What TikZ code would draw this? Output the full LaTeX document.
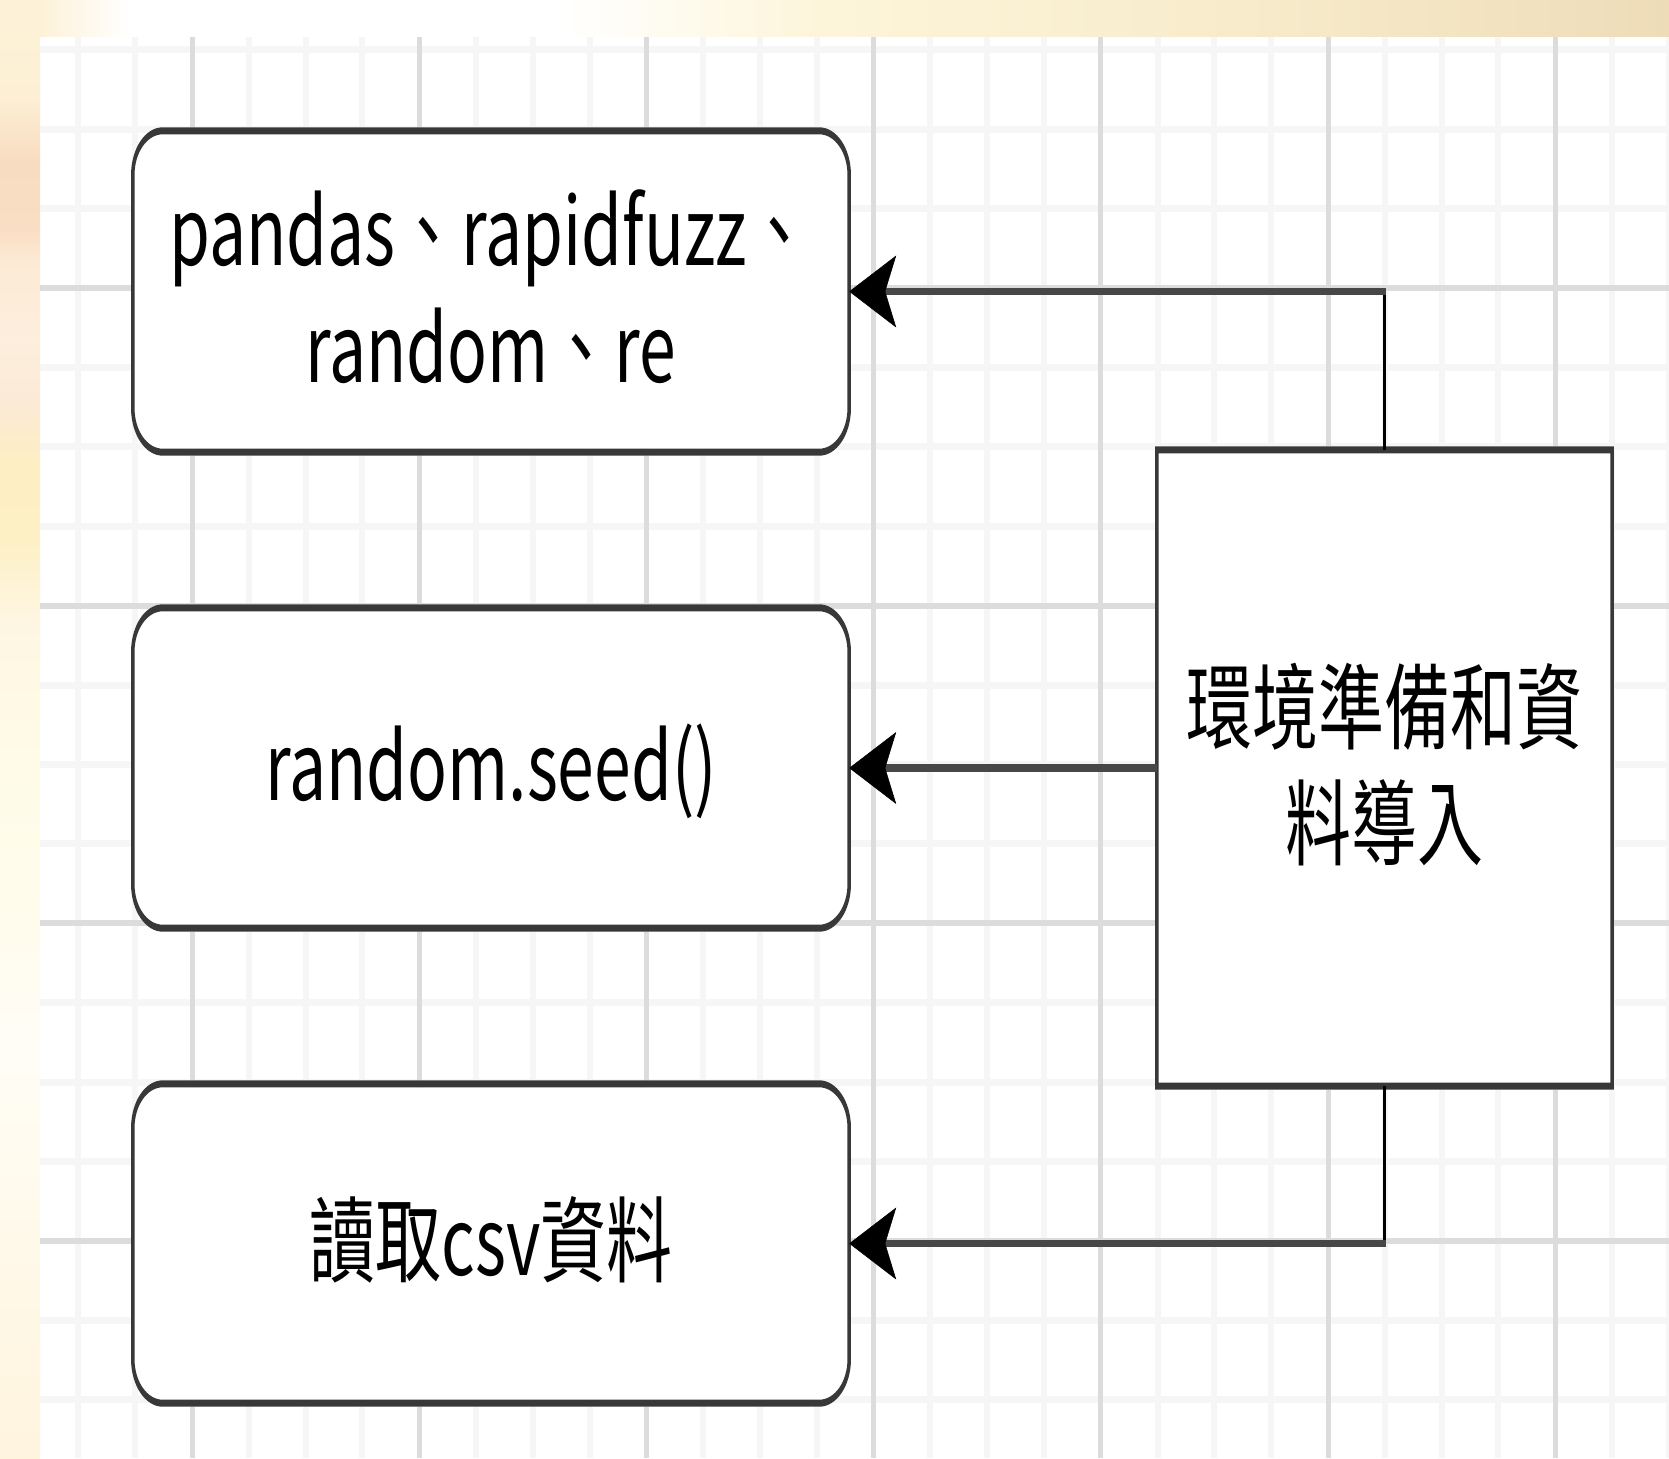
\documentclass[tikz,border=0pt]{standalone}
\usepackage{fontspec}
\usepackage{graphicx}
\newfontfamily\cjk{Noto Sans CJK TC}
\usetikzlibrary{arrows.meta,calc}
\pgfdeclarelayer{bg}
\pgfdeclarelayer{boxes}
\pgfsetlayers{bg,boxes,main}

\definecolor{gmin}{HTML}{F6F6F6}
\definecolor{gmaj}{HTML}{DCDCDC}
\definecolor{boxcol}{HTML}{383838}
\definecolor{hcol}{HTML}{474747}
\definecolor{lc0}{HTML}{FDF2D8}
\definecolor{lc1}{HTML}{FCEFD4}
\definecolor{lc2}{HTML}{F8DCC0}
\definecolor{lc3}{HTML}{F9DEC4}
\definecolor{lc4}{HTML}{FCEAD4}
\definecolor{lc5}{HTML}{FDEEDD}
\definecolor{lc6}{HTML}{FBEAD6}
\definecolor{lc7}{HTML}{FDEFC2}
\definecolor{lc8}{HTML}{FDF0C6}
\definecolor{lc9}{HTML}{FEF6E2}
\definecolor{lc10}{HTML}{FFFBE8}
\definecolor{lc11}{HTML}{FFFCEC}
\definecolor{lc12}{HTML}{FFFDF6}
\definecolor{lc13}{HTML}{FFFAEC}
\definecolor{lc14}{HTML}{FFF4DE}
\definecolor{tA}{HTML}{FDF5DA}
\definecolor{tB}{HTML}{F6E9C8}
\definecolor{tC}{HTML}{EEDCB8}

\newcommand\boxtext[1]{\raisebox{-9pt}[\height][\depth]{\scalebox{1}[1.42]{\cjk\fontsize{66}{82}\selectfont\begin{tabular}{@{}c@{}}#1\end{tabular}}}}

% x1 y1 x2 y2 rx ry
\newcommand\ringpath[6]{%
  ({#1+#5},{#2}) -- ({#3-#5},{#2})
  arc[start angle=-90,end angle=0,x radius=#5,y radius=#6]
  -- ({#3},{#4-#6})
  arc[start angle=0,end angle=90,x radius=#5,y radius=#6]
  -- ({#1+#5},{#4})
  arc[start angle=90,end angle=180,x radius=#5,y radius=#6]
  -- ({#1},{#2+#6})
  arc[start angle=180,end angle=270,x radius=#5,y radius=#6]
  -- cycle}

\newcommand\roundring[1]{%
  \fill[white] let \p1=(#1.south west), \p2=(#1.north east) in
    \ringpath{\x1-1.75pt}{\y1-3.5pt}{\x2+1.75pt}{\y2+3.5pt}{31.75pt}{47.5pt};
  \fill[boxcol, even odd rule] let \p1=(#1.south west), \p2=(#1.north east) in
    \ringpath{\x1-1.75pt}{\y1-3.5pt}{\x2+1.75pt}{\y2+3.5pt}{31.75pt}{47.5pt}
    \ringpath{\x1+1.75pt}{\y1+3.5pt}{\x2-1.75pt}{\y2-3.5pt}{28.25pt}{40.5pt};}

\newcommand\squarering[1]{%
  \fill[white] ([shift={(-1.75pt,-3.5pt)}]#1.south west) rectangle ([shift={(1.75pt,3.5pt)}]#1.north east);
  \fill[boxcol, even odd rule]
    ([shift={(-1.75pt,-3.5pt)}]#1.south west) rectangle ([shift={(1.75pt,3.5pt)}]#1.north east)
    ([shift={(1.75pt,3.5pt)}]#1.south west) rectangle ([shift={(-1.75pt,-3.5pt)}]#1.north east);}

\begin{document}
\begin{tikzpicture}[x=1pt,y=1pt,
  boxnode/.style={draw=none, fill=none, inner sep=0pt, rectangle},
  vline/.style={draw=black, line width=3.5pt},
  hline/.style={draw=hcol, line width=7.5pt,
    -{Stealth[length=47pt,width=72pt,inset=11pt,line width=0.5pt,color=black]}},
  gminv/.style={draw=gmin, line width=6pt},
  gmajv/.style={draw=gmaj, line width=5pt},
  gminh/.style={draw=gmin, line width=7pt},
  gmajh/.style={draw=gmaj, line width=6pt}]
\useasboundingbox (0,0) rectangle (1669,-1458);

% ---------- nodes ----------
\node[boxnode, minimum width=716pt, minimum height=321pt] (b1) at (491,-291.5)
  {\boxtext{pandas、rapidfuzz、\\random、re}};
\node[boxnode, minimum width=716pt, minimum height=320pt] (b2) at (491,-768)
  {\boxtext{random.seed()}};
\node[boxnode, minimum width=716pt, minimum height=319pt] (b3) at (491,-1243.5)
  {\boxtext{讀取csv資料}};
\node[boxnode, minimum width=455pt, minimum height=636pt] (r) at (1384.5,-768)
  {\boxtext{環境準備和資\\料導入}};

% ---------- background ----------
\begin{pgfonlayer}{bg}
  \fill[white] (0,0) rectangle (1669,-1458);
  % top strip
  \shade[left color=lc0, right color=white] (40,0) rectangle (130,-37);
  \shade[left color=white, right color=tA] (560,0) rectangle (820,-37);
  \shade[left color=tA, right color=tB] (820,0) rectangle (1320,-37);
  \shade[left color=tB, right color=tC] (1320,0) rectangle (1669,-37);
  % left strip
  \foreach \ya/\ca/\yb/\cb in {0/lc0/100/lc1, 100/lc1/160/lc2, 160/lc2/230/lc3,
      230/lc3/260/lc4, 260/lc4/340/lc5, 340/lc5/400/lc6, 400/lc6/470/lc7,
      470/lc7/540/lc8, 540/lc8/620/lc9, 620/lc9/760/lc10, 760/lc10/900/lc11,
      900/lc11/1050/lc12, 1050/lc12/1200/lc13, 1200/lc13/1458/lc14}
    {\shade[top color=\ca, bottom color=\cb] (0,-\ya+0.5) rectangle (40,-\yb-0.5);}
  % grid minor
  \foreach \k in {-2,...,26}{
    \pgfmathsetmacro\xx{192+\k*56.8}
    \pgfmathtruncatemacro\mm{mod(\k+40,4)}
    \ifnum\mm=0\relax\else\draw[gminv] (\xx,-37) -- (\xx,-1458);\fi}
  \foreach \k in {-3,...,14}{
    \pgfmathsetmacro\yy{-(288+\k*79.4)}
    \pgfmathtruncatemacro\mm{mod(\k+40,4)}
    \ifnum\mm=0\relax\else\draw[gminh] (40,\yy) -- (1669,\yy);\fi}
  % grid major
  \foreach \k in {-2,...,26}{
    \pgfmathsetmacro\xx{192+\k*56.8}
    \pgfmathtruncatemacro\mm{mod(\k+40,4)}
    \ifnum\mm=0\relax\draw[gmajv] (\xx,-37) -- (\xx,-1458);\fi}
  \foreach \k in {-3,...,14}{
    \pgfmathsetmacro\yy{-(288+\k*79.4)}
    \pgfmathtruncatemacro\mm{mod(\k+40,4)}
    \ifnum\mm=0\relax\draw[gmajh] (40,\yy) -- (1669,\yy);\fi}
\end{pgfonlayer}

% ---------- box outlines ----------
\begin{pgfonlayer}{boxes}
  \roundring{b1}
  \roundring{b2}
  \roundring{b3}
  \squarering{r}
\end{pgfonlayer}

% ---------- connectors ----------
\coordinate (t1) at (r.north |- b1.east);
\coordinate (t3) at (r.south |- b3.east);
\draw[vline, shorten >=-3.75pt] (r.north) -- (t1);
\draw[hline, shorten <=-1.75pt] (t1) -- (b1.east);
\draw[hline] (r.west) -- (b2.east);
\draw[vline, shorten >=-3.75pt] (r.south) -- (t3);
\draw[hline, shorten <=-1.75pt] (t3) -- (b3.east);
\end{tikzpicture}
\end{document}
